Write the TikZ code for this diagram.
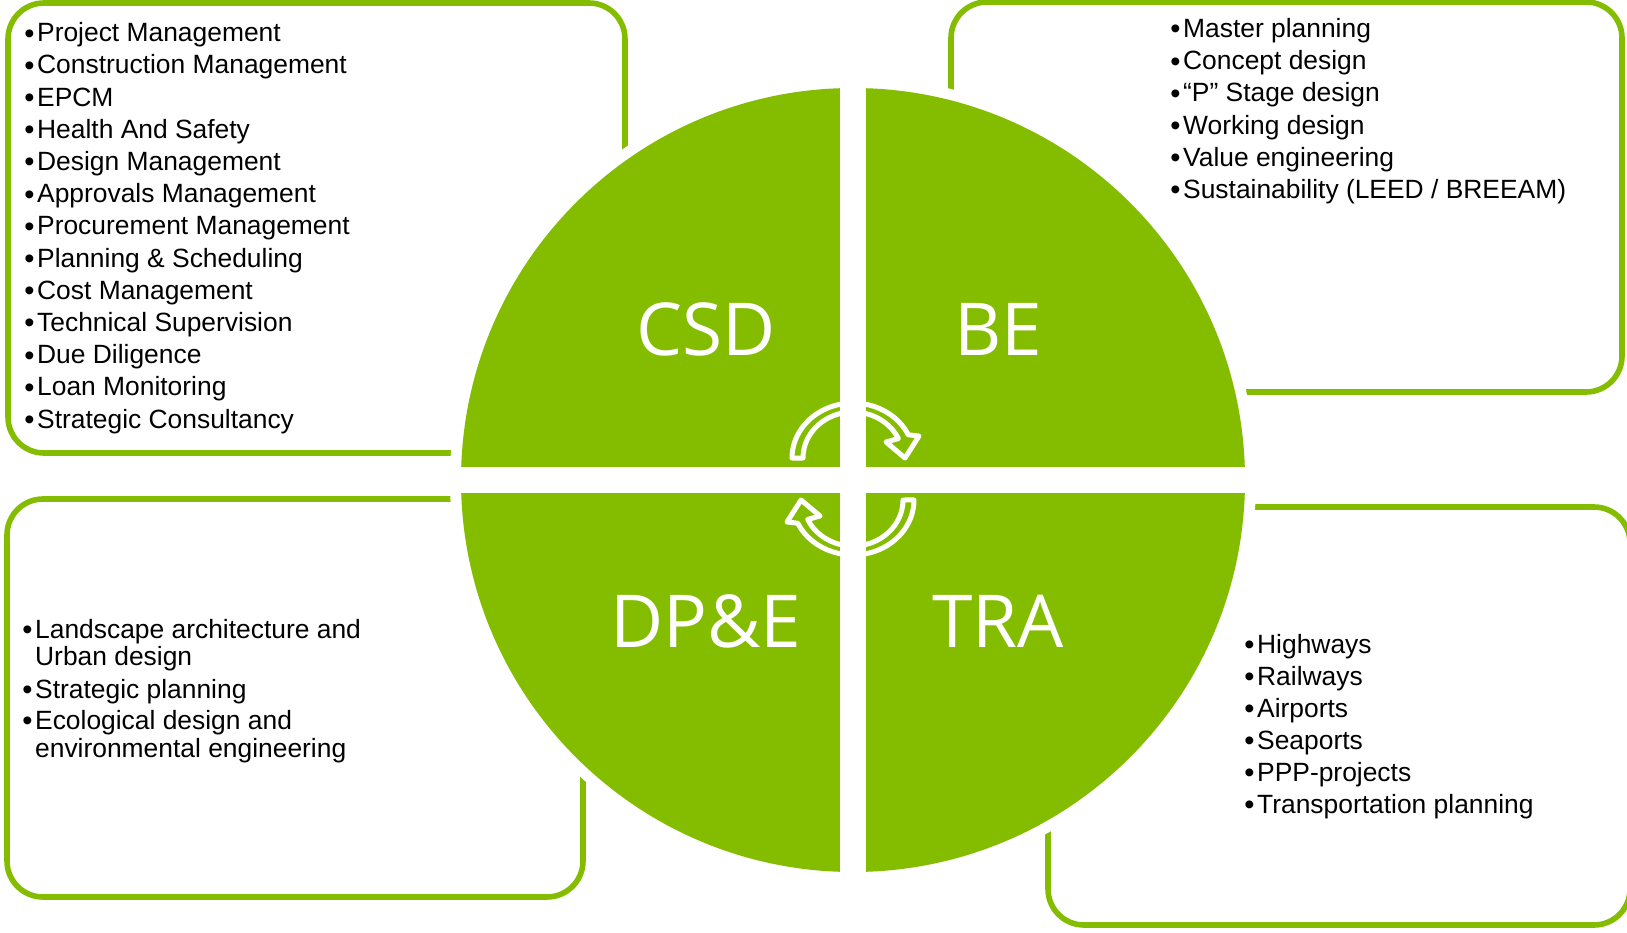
\documentclass[tikz,border=0pt]{standalone}
\usepackage{graphicx}
\usepackage{fontspec}
\setmainfont{Liberation Sans}
\newfontfamily\quadfont{Open Sans}
\definecolor{leaf}{HTML}{84BD00}
\newcommand{\dotmark}{\raisebox{-0.05em}{\scalebox{1.1}{\textbullet}}\hspace{1.3pt}}
\begin{document}
\begin{tikzpicture}[x=0.5pt,y=-0.5pt,
    box/.style={draw=leaf, line width=2.8pt, rounded corners=18pt},
    entry/.style={anchor=base west, inner sep=0pt, font=\fontsize{13.2}{15}\selectfont},
    quadlabel/.style={anchor=base, inner sep=0pt, text=white, font=\quadfont\fontsize{36.5}{40}\selectfont},
    turn/.style={draw=white, line width=2.5pt, line join=round}]
  \useasboundingbox (0,0) rectangle (1627,932);
  \clip (0,0) rectangle (1627,932);
  % outer boxes
  \draw[box] (8,3) rectangle (625,453);
  \draw[box] (951,2) rectangle (1622,392);
  \draw[box] (7,499) rectangle (583,897);
  \draw[box] (1048,507) rectangle (1630,925);
  % circle with cross
  \fill[white] (853,480) circle[radius=403];
  \fill[leaf] (853,480) circle[radius=392];
  \fill[white] (840,78) rectangle (866,882);
  \fill[white] (450,467) rectangle (1256,493);
  % turning arrows
  \foreach \cy/\rot in {458/0,500/180}
    \draw[turn, shift={(853,\cy)}, y=0.5pt, rotate=\rot] (-50,0) arc[start angle=180, end angle=25, x radius=50, y radius=46]
      -- (33,16) -- (52,0) -- (66,22) -- (55.3,23.2) arc[start angle=25, end angle=180, x radius=61, y radius=55] -- cycle;
  % quadrant labels
  \node[quadlabel] (csd) at (706,355) {CSD};
  \node[quadlabel] (be) at (998,355) {BE};
  \node[quadlabel] (dpe) at (706,647) {DP\&E};
  \node[quadlabel] (tra) at (998,647) {TRA};
  % lists
  \foreach \txt [count=\i] in {Project Management, Construction Management, EPCM, Health And Safety, Design Management, Approvals Management, Procurement Management, Planning \& Scheduling, Cost Management, Technical Supervision, Due Diligence, Loan Monitoring, Strategic Consultancy}
    \node[entry] (csd\i) at (24,{41.7+32.2*(\i-1)}) {\dotmark\txt};
  \foreach \txt [count=\i] in {Master planning, Concept design, “P” Stage design, Working design, Value engineering, {Sustainability (LEED / BREEAM)}}
    \node[entry] (be\i) at (1170,{37.5+32.2*(\i-1)}) {\dotmark\txt};
  \foreach \y/\txt [count=\i] in {638/\dotmark Landscape architecture and, 665/\phantom{\dotmark}Urban design, 698/\dotmark Strategic planning, 729.5/\dotmark Ecological design and, 757/\phantom{\dotmark}environmental engineering}
    \node[entry] (dpe\i) at (22,\y) {\txt};
  \foreach \txt [count=\i] in {Highways, Railways, Airports, Seaports, PPP-projects, Transportation planning}
    \node[entry] (tra\i) at (1244,{653+32*(\i-1)}) {\dotmark\txt};
\end{tikzpicture}
\end{document}
